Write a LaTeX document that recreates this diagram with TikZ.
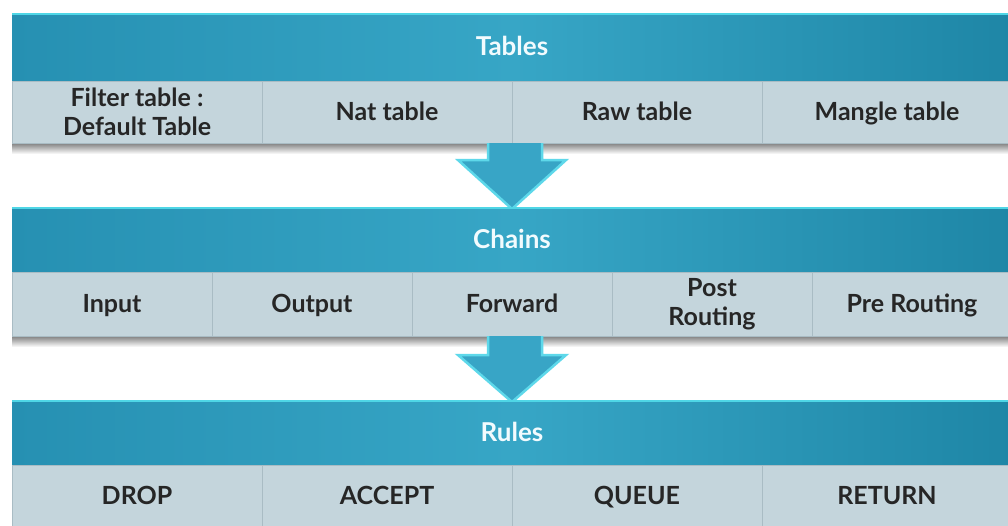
\documentclass[tikz,border=0pt]{standalone}
\usepackage{fontspec}
\setmainfont{Lato}
\definecolor{hdrL}{HTML}{2690B2}
\definecolor{hdrM}{HTML}{37A6C6}
\definecolor{hdrR}{HTML}{1E86A6}
\definecolor{hdrTop}{HTML}{4FD6E6}
\definecolor{cellC}{HTML}{C4D5DC}
\definecolor{cellLine}{HTML}{A9BCC4}
\definecolor{arrowF}{HTML}{38A5C6}
\definecolor{arrowB}{HTML}{5ED8EA}
\definecolor{txt}{HTML}{262626}
\tikzset{
  hdrbox/.style={rectangle, inner sep=0pt, left color=hdrL, right color=hdrR, middle color=hdrM,
     text=white!95!cyan, font=\fontsize{26}{28}\selectfont\bfseries},
  cellbox/.style={rectangle, inner sep=0pt, fill=cellC, draw=cellLine, line width=0.8pt,
     text=txt, align=center, font=\fontsize{25}{29}\selectfont\bfseries},
  oneline/.style={text height=18pt, text depth=1pt},
  bigarrow/.style={fill=arrowF, draw=arrowB, line width=2.5pt, line join=miter},
  shadowbar/.style={top color=black!50, bottom color=white, draw=none}
}
\begin{document}
\begin{tikzpicture}[x=1pt,y=-1pt]
\useasboundingbox (0,0) rectangle (1008,525);
\fill[white] (0,0) rectangle (1008,525);

% ---------- band 1 ----------
\fill[shadowbar] (12,143) rectangle (1012,154);
\node[hdrbox, oneline, minimum width=1000pt, minimum height=68pt] (tables) at (512,47) {Tables};
\draw[hdrTop, line width=2pt] (12,14) -- (1012,14);
\node[cellbox, minimum width=250pt, minimum height=62pt] (filter) at (137,112) {Filter table :\\Default Table};
\node[cellbox, oneline, minimum width=250pt, minimum height=62pt] (nat) at (387,112) {Nat table};
\node[cellbox, oneline, minimum width=250pt, minimum height=62pt] (raw) at (637,112) {Raw table};
\node[cellbox, oneline, minimum width=250pt, minimum height=62pt] (mangle) at (887,112) {Mangle table};

% ---------- arrow 1 ----------
\draw[bigarrow] (488,143) -- (488,160) -- (458,160) -- (512,209) -- (566,160) -- (542,160) -- (542,143);

% ---------- band 2 ----------
\fill[shadowbar] (12,336) rectangle (1012,347);
\node[hdrbox, oneline, minimum width=1000pt, minimum height=65pt] (chains) at (512,239.5) {Chains};
\draw[hdrTop, line width=2pt] (12,208) -- (1012,208);
\node[cellbox, oneline, minimum width=200pt, minimum height=64pt] (input) at (112,304) {Input};
\node[cellbox, oneline, minimum width=200pt, minimum height=64pt] (output) at (312,304) {Output};
\node[cellbox, oneline, minimum width=200pt, minimum height=64pt] (forward) at (512,304) {Forward};
\node[cellbox, minimum width=200pt, minimum height=64pt] (post) at (712,304) {Post\\Routing};
\node[cellbox, oneline, minimum width=200pt, minimum height=64pt] (pre) at (912,304) {Pre Routing};

% ---------- arrow 2 ----------
\draw[bigarrow] (488,336) -- (488,355) -- (458,355) -- (512,402) -- (566,355) -- (542,355) -- (542,336);

% ---------- band 3 ----------
\node[hdrbox, oneline, minimum width=1000pt, minimum height=65pt] (rules) at (512,432.5) {Rules};
\draw[hdrTop, line width=2pt] (12,401) -- (1012,401);
\node[cellbox, oneline, minimum width=250pt, minimum height=62pt] (drop) at (137,496) {DROP};
\node[cellbox, oneline, minimum width=250pt, minimum height=62pt] (accept) at (387,496) {ACCEPT};
\node[cellbox, oneline, minimum width=250pt, minimum height=62pt] (queue) at (637,496) {QUEUE};
\node[cellbox, oneline, minimum width=250pt, minimum height=62pt] (return) at (887,496) {RETURN};
\end{tikzpicture}
\end{document}
